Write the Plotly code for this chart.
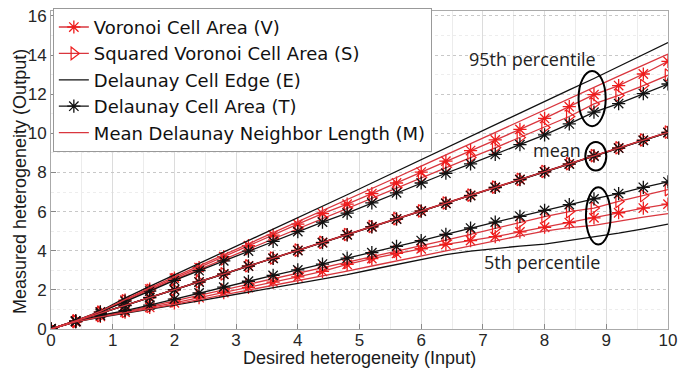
import plotly.graph_objects as go

x = [0, 0.4, 0.8, 1.2, 1.6, 2.0, 2.4, 2.8, 3.2, 3.6, 4.0, 4.4, 4.8, 5.2, 5.6, 6.0,
     6.4, 6.8, 7.2, 7.6, 8.0, 8.4, 8.8, 9.2, 9.6, 10.0]

# 95th percentile
V95 = [0, 0.42, 0.88, 1.48, 2.04, 2.60, 3.14, 3.70, 4.26, 4.80, 5.36, 5.90, 6.38, 6.92,
       7.46, 8.02, 8.58, 9.12, 9.66, 10.20, 10.76, 11.36, 11.98, 12.44, 13.03, 13.68]
S95 = [0, 0.41, 0.86, 1.44, 1.98, 2.52, 3.04, 3.58, 4.10, 4.64, 5.16, 5.68, 6.18, 6.70,
       7.22, 7.74, 8.26, 8.76, 9.26, 9.78, 10.30, 10.86, 11.50, 11.94, 12.44, 12.97]
E95 = [0, 0.42, 0.92, 1.58, 2.18, 2.76, 3.34, 3.92, 4.51, 5.11, 5.70, 6.25, 6.86, 7.46,
       8.06, 8.66, 9.25, 9.84, 10.44, 11.02, 11.62, 12.22, 12.80, 13.42, 14.02, 14.64]
T95 = [0, 0.40, 0.86, 1.42, 1.94, 2.48, 2.98, 3.48, 3.98, 4.48, 4.98, 5.46, 5.92, 6.44,
       6.96, 7.46, 7.96, 8.44, 8.92, 9.42, 9.92, 10.48, 11.08, 11.52, 12.03, 12.52]
M95 = [0, 0.42, 0.90, 1.52, 2.10, 2.66, 3.22, 3.78, 4.34, 4.90, 5.46, 6.02, 6.60, 7.16,
       7.74, 8.32, 8.90, 9.48, 10.06, 10.64, 11.22, 11.80, 12.36, 12.92, 13.48, 14.05]

# mean
Vm = [0, 0.40, 0.80, 1.21, 1.61, 2.01, 2.41, 2.81, 3.22, 3.62, 4.02, 4.42, 4.82, 5.23,
      5.63, 6.03, 6.43, 6.83, 7.24, 7.64, 8.04, 8.44, 8.85, 9.25, 9.65, 10.05]
Sm = [0, 0.41, 0.81, 1.22, 1.62, 2.02, 2.42, 2.82, 3.23, 3.63, 4.03, 4.43, 4.83, 5.24,
      5.64, 6.04, 6.44, 6.84, 7.25, 7.65, 8.05, 8.45, 8.86, 9.26, 9.66, 10.06]
Em = [0, 0.40, 0.80, 1.20, 1.60, 2.00, 2.40, 2.80, 3.21, 3.61, 4.01, 4.41, 4.81, 5.22,
      5.62, 6.02, 6.42, 6.82, 7.23, 7.63, 8.03, 8.43, 8.84, 9.24, 9.64, 10.04]
Tm = [0, 0.40, 0.79, 1.20, 1.60, 2.00, 2.40, 2.80, 3.21, 3.61, 4.01, 4.41, 4.81, 5.22,
      5.62, 6.02, 6.42, 6.82, 7.23, 7.63, 8.03, 8.43, 8.84, 9.24, 9.64, 10.04]
Mm = [0, 0.40, 0.80, 1.21, 1.61, 2.01, 2.41, 2.81, 3.22, 3.62, 4.02, 4.42, 4.82, 5.23,
      5.63, 6.03, 6.43, 6.83, 7.24, 7.64, 8.04, 8.44, 8.85, 9.25, 9.65, 10.05]

# 5th percentile
V5 = [0, 0.37, 0.64, 0.86, 1.10, 1.34, 1.60, 1.86, 2.12, 2.40, 2.66, 2.94, 3.30, 3.60,
      3.86, 4.10, 4.32, 4.52, 4.72, 4.96, 5.20, 5.44, 5.68, 5.94, 6.18, 6.38]
S5 = [0, 0.38, 0.68, 0.90, 1.16, 1.44, 1.72, 2.00, 2.28, 2.56, 2.84, 3.12, 3.40, 3.68,
      3.96, 4.24, 4.54, 4.84, 5.14, 5.44, 5.74, 6.00, 6.18, 6.52, 6.82, 7.12]
E5 = [0, 0.36, 0.60, 0.80, 1.00, 1.22, 1.44, 1.66, 1.88, 2.10, 2.32, 2.54, 2.78, 3.04,
      3.30, 3.56, 3.80, 3.98, 4.12, 4.24, 4.34, 4.52, 4.72, 4.90, 5.12, 5.36]
T5 = [0, 0.38, 0.70, 0.94, 1.22, 1.53, 1.84, 2.14, 2.44, 2.74, 3.02, 3.32, 3.62, 3.90,
      4.22, 4.52, 4.84, 5.16, 5.46, 5.76, 6.06, 6.36, 6.65, 6.92, 7.24, 7.52]
M5 = [0, 0.36, 0.62, 0.82, 1.04, 1.26, 1.50, 1.74, 1.98, 2.22, 2.46, 2.70, 2.96, 3.22,
      3.48, 3.74, 3.98, 4.24, 4.50, 4.76, 5.00, 5.18, 5.30, 5.52, 5.72, 5.90]

names = ["Voronoi Cell Area (V)", "Squared Voronoi Cell Area (S)",
         "Delaunay Cell Edge (E)", "Delaunay Cell Area (T)",
         "Mean Delaunay Neighbor Length (M)"]

x_ticks = [0, 1, 2, 3, 4, 5, 6, 7, 8, 9, 10]
y_ticks = [0, 2, 4, 6, 8, 10, 12, 14, 16]

RED = "#ee1c1c"
LRED = "#d9363e"
BLK = "#111111"

styles = {
    "V": dict(line=dict(color=LRED, width=1.3),
              marker=dict(symbol="asterisk-open", size=11, color=RED, line=dict(color=RED, width=1.3)),
              mode="lines+markers"),
    "S": dict(line=dict(color=LRED, width=1.3),
              marker=dict(symbol="triangle-right-open", size=11, color=RED, line=dict(color=RED, width=1.2)),
              mode="lines+markers"),
    "E": dict(line=dict(color=BLK, width=1.3), mode="lines"),
    "T": dict(line=dict(color=BLK, width=1.3),
              marker=dict(symbol="asterisk-open", size=11, color=BLK, line=dict(color=BLK, width=1.3)),
              mode="lines+markers"),
    "M": dict(line=dict(color=LRED, width=1.3), mode="lines"),
}

series = {
    "V": [V95, Vm, V5],
    "S": [S95, Sm, S5],
    "E": [E95, Em, E5],
    "T": [T95, Tm, T5],
    "M": [M95, Mm, M5],
}

fig = go.Figure()
for key, name in zip(["V", "S", "E", "T", "M"], names):
    for i, ys in enumerate(series[key]):
        fig.add_trace(go.Scatter(x=x, y=ys, name=name, legendgroup=key,
                                 showlegend=(i == 0), **styles[key]))

# ellipses around x = 8.8
ell = [(8.77, 11.77, 0.22, 1.41), (8.83, 8.83, 0.17, 0.73), (8.87, 5.78, 0.2, 1.46)]
for cx, cy, rx, ry in ell:
    fig.add_shape(type="circle", xref="x", yref="y", x0=cx - rx, x1=cx + rx,
                  y0=cy - ry, y1=cy + ry, line=dict(color="black", width=2))

ann_font = dict(family="Open Sans, Lato, sans-serif", size=18, color="#222222")
fig.add_annotation(x=7.8, y=13.8, text="95th percentile", showarrow=False, font=ann_font, xref="x", yref="y")
fig.add_annotation(x=8.2, y=9.15, text="mean", showarrow=False, font=ann_font, xref="x", yref="y")
fig.add_annotation(x=7.95, y=3.41, text="5th percentile", showarrow=False, font=ann_font, xref="x", yref="y")

FAM = "Liberation Sans, Arial, sans-serif"
axfont = dict(family=FAM, size=17, color="#262626")

# axis titles as annotations (placed tight like the original)
fig.add_annotation(x=0.5, y=0, xref="paper", yref="paper", yanchor="middle", yshift=-29,
                   text="Desired heterogeneity (Input)", showarrow=False,
                   font=dict(size=18, family=FAM, color="#1a1a1a"))
fig.add_annotation(x=0, y=0.5, xref="paper", yref="paper", xanchor="center", xshift=-31, yshift=-12,
                   text="Measured heterogeneity (Output)", showarrow=False, textangle=-90,
                   font=dict(size=18, family=FAM, color="#1a1a1a"))

fig.update_layout(
    width=689, height=368,
    margin=dict(l=51, r=21, t=8, b=39),
    paper_bgcolor="white", plot_bgcolor="white",
    font=dict(family=FAM, color="#1a1a1a"),
    legend=dict(x=0.003, y=1.01, xanchor="left", yanchor="top",
                bgcolor="white", bordercolor="#999999", borderwidth=1,
                font=dict(size=18, family="DejaVu Sans, sans-serif", color="#111111"),
                itemwidth=30, tracegroupgap=0),
    xaxis=dict(range=[0, 10], tickvals=x_ticks, showgrid=True, gridcolor="#dcdcdc", gridwidth=1,
               minor=dict(dtick=0.5, showgrid=True, gridcolor="#ececec", ticks=""),
               ticks="inside", ticklen=5, tickcolor="#888888", automargin=False,
               showline=True, linecolor="#aaaaaa", mirror=True, zeroline=False,
               ticklabelstandoff=-4, tickfont=axfont),
    yaxis=dict(range=[0, 16.25], tickvals=y_ticks, showgrid=True, gridcolor="#c8c8c8", griddash="dot",
               minor=dict(dtick=1, showgrid=True, gridcolor="#ededed", ticks=""),
               ticks="inside", ticklen=5, tickcolor="#888888", automargin=False,
               showline=True, linecolor="#aaaaaa", mirror=True, zeroline=False,
               tickfont=axfont),
)

# remove the page's default 8px body margin so the figure sits at the window origin
fig.write_html("out.html", config={"displayModeBar": False},
               post_script="document.body.style.margin='0';")
